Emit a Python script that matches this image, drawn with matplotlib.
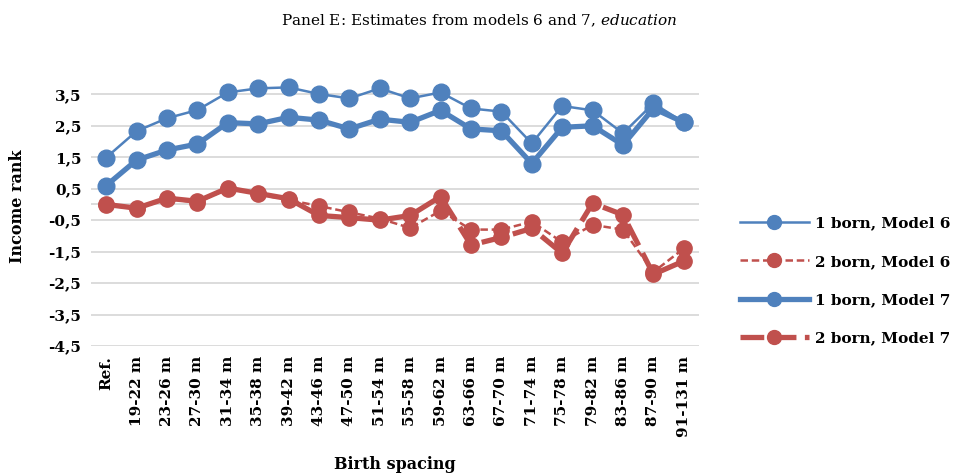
import numpy as np
import matplotlib.pyplot as plt
from matplotlib.lines import Line2D

plt.rcParams["font.family"] = "DejaVu Serif"
plt.rcParams["mathtext.fontset"] = "custom"
plt.rcParams["mathtext.it"] = "DejaVu Serif:italic"
plt.rcParams["mathtext.rm"] = "DejaVu Serif"

categories = ["Ref.", "19-22 m", "23-26 m", "27-30 m", "31-34 m", "35-38 m",
              "39-42 m", "43-46 m", "47-50 m", "51-54 m", "55-58 m", "59-62 m",
              "63-66 m", "67-70 m", "71-74 m", "75-78 m", "79-82 m", "83-86 m",
              "87-90 m", "91-131 m"]

born1_m6 = [1.49, 2.33, 2.74, 3.0, 3.56, 3.69, 3.72, 3.51, 3.37, 3.69,
            3.37, 3.56, 3.05, 2.95, 1.94, 3.13, 2.99, 2.26, 3.21, 2.61]
born2_m6 = [-0.02, -0.15, 0.18, 0.06, 0.5, 0.32, 0.14, -0.05, -0.25, -0.45,
            -0.75, -0.2, -0.8, -0.8, -0.55, -1.2, -0.65, -0.8, -2.15, -1.4]
born1_m7 = [0.6, 1.41, 1.73, 1.92, 2.6, 2.56, 2.77, 2.68, 2.4, 2.71,
            2.61, 2.99, 2.4, 2.34, 1.3, 2.45, 2.5, 1.89, 3.05, 2.61]
born2_m7 = [0.0, -0.12, 0.2, 0.1, 0.52, 0.35, 0.18, -0.35, -0.42, -0.5,
            -0.35, 0.25, -1.29, -1.05, -0.76, -1.55, 0.04, -0.33, -2.22, -1.8]

yticks = [3.5, 2.5, 1.5, 0.5, -0.5, -1.5, -2.5, -3.5, -4.5]

BLUE = "#4f81bd"
RED = "#c0504d"

fig = plt.figure(figsize=(9.59, 4.74), dpi=100)
ax = fig.add_axes([91 / 959, 128 / 474, 608 / 959, 280 / 474])

x = np.arange(len(categories))

ax.plot(x, born1_m6, color=BLUE, lw=1.8, marker="o", ms=12,
        label="1 born, Model 6")
ax.plot(x, born2_m6, color=RED, lw=1.8, marker="o", ms=11,
        dashes=(3, 1.5), label="2 born, Model 6")
ax.plot(x, born1_m7, color=BLUE, lw=3.8, marker="o", ms=12,
        label="1 born, Model 7")
ax.plot(x, born2_m7, color=RED, lw=3.8, marker="o", ms=11,
        dashes=(4.5, 1.6), label="2 born, Model 7")

ax.set_xlim(-0.5, len(categories) - 0.5)
ax.set_ylim(-4.5, 4.4)
ax.set_yticks(yticks)
ax.set_yticklabels([f"{v:.1f}".replace(".", ",") for v in yticks],
                   fontweight="bold", fontsize=11)
ax.set_xticks(x)
ax.set_xticklabels(categories, rotation=90, fontweight="bold", fontsize=11)
ax.tick_params(length=0, pad=7)
ax.grid(axis="y", color="#d9d9d9", lw=1.3)
ax.axhline(0, color="#d9d9d9", lw=1.3, zorder=0)
ax.set_axisbelow(True)
for s in ax.spines.values():
    s.set_visible(False)

ax.set_ylabel("Income rank", fontweight="bold", fontsize=11.5, labelpad=16)
ax.set_xlabel("Birth spacing", fontweight="bold", fontsize=11.5, labelpad=14)

fig.text(0.5, 0.957, r"Panel E: Estimates from models 6 and 7, $\it{education}$",
         ha="center", va="center", fontsize=11)

handles = [
    Line2D([], [], color=BLUE, lw=1.8, marker="o", ms=10),
    Line2D([], [], color=RED, lw=1.8, marker="o", ms=10, dashes=(3, 1.5)),
    Line2D([], [], color=BLUE, lw=3.8, marker="o", ms=10),
    Line2D([], [], color=RED, lw=3.8, marker="o", ms=10, dashes=(4.5, 1.6)),
]
labels = ["1 born, Model 6", "2 born, Model 6", "1 born, Model 7", "2 born, Model 7"]
fig.legend(handles, labels, loc="center left", bbox_to_anchor=(726 / 959, 1 - 281 / 474),
           frameon=False, prop={"weight": "bold", "size": 11},
           handlelength=4.5, labelspacing=1.6, handletextpad=0.4)

fig.savefig("out.png", dpi=100)
